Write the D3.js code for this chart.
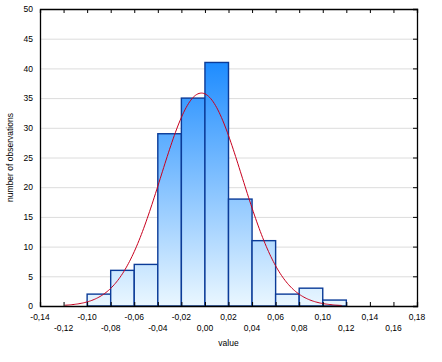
<!DOCTYPE html>
<html><head><meta charset="utf-8">
<script src="https://cdn.jsdelivr.net/npm/d3@7"></script>
<style>body{margin:0;background:#fff}text{font-family:"Liberation Sans",Arial,sans-serif;font-size:8.5px;fill:#000}</style>
</head><body><svg id="c" width="442" height="362"></svg>
<script>
const binStarts = [-0.10,-0.08,-0.06,-0.04,-0.02,0.00,0.02,0.04,0.06,0.08,0.10];
const counts = [2,6,7,29,35,41,18,11,2,3,1];
const binWidth = 0.02;
const xTicks = [-0.14,-0.12,-0.10,-0.08,-0.06,-0.04,-0.02,0.00,0.02,0.04,0.06,0.08,0.10,0.12,0.14,0.16,0.18];
const yTicks = [0,5,10,15,20,25,30,35,40,45,50];
const curveMean = -0.003, curveSd = 0.0345, curveFrom = -0.119, curveTo = 0.116;

(function(){
const svg = d3.select("#c");
const L=40,R=417,T=9,B=306;
const x = d3.scaleLinear().domain([-0.14,0.18]).range([L,R]);
const y = d3.scaleLinear().domain([0,50]).range([B,T]);
const fmt = d => d3.format(".2f")(d).replace(".",",").replace("−","-");

const defs = svg.append("defs");
const g = defs.append("linearGradient").attr("id","gr").attr("gradientUnits","userSpaceOnUse")
  .attr("x1",0).attr("x2",0).attr("y1",y(41)).attr("y2",B);
g.append("stop").attr("offset",0).attr("stop-color","#1e8cff");
g.append("stop").attr("offset",1).attr("stop-color","#eaf7ff");

// grid
svg.append("g").selectAll("line").data(yTicks.filter(d=>d>0&&d<50)).join("line")
  .attr("x1",L).attr("x2",R).attr("y1",d=>y(d)+0.5).attr("y2",d=>y(d)+0.5)
  .attr("stroke","#dcdcdc").attr("stroke-width",1);

// bars
svg.append("g").selectAll("rect").data(counts).join("rect")
  .attr("x",(d,i)=>x(binStarts[i])).attr("width",(d,i)=>x(binStarts[i]+binWidth)-x(binStarts[i]))
  .attr("y",d=>y(d)).attr("height",d=>B-y(d))
  .attr("fill","url(#gr)").attr("stroke","#0b3b98").attr("stroke-width",1.4);

// normal curve
const N = d3.sum(counts);
const pts = d3.range(curveFrom, curveTo+1e-9, 0.001).map(v=>[v, N*binWidth/(curveSd*Math.sqrt(2*Math.PI))*Math.exp(-0.5*((v-curveMean)/curveSd)**2)]);
svg.append("path").datum(pts).attr("fill","none").attr("stroke","#c8001e").attr("stroke-width",1)
  .attr("d",d3.line().x(d=>x(d[0])).y(d=>y(d[1])));

// axes
const axB = svg.append("g").attr("transform",`translate(0,${B})`)
  .call(d3.axisBottom(x).tickValues(xTicks).tickSize(-4).tickFormat(""));
const axT = svg.append("g").attr("transform",`translate(0,${T})`)
  .call(d3.axisTop(x).tickValues(xTicks).tickSize(-4).tickFormat(""));
const axR = svg.append("g").attr("transform",`translate(${R},0)`)
  .call(d3.axisRight(y).tickValues(yTicks).tickSize(-4).tickFormat(""));
const axL = svg.append("g").attr("transform",`translate(${L},0)`)
  .call(d3.axisLeft(y).tickValues(yTicks).tickSize(0).tickPadding(7).tickFormat(d=>d));
[axB,axT,axR,axL].forEach(a=>{a.attr("font-size",null).attr("font-family",null);a.selectAll("path.domain").attr("stroke","#000").attr("stroke-width",1.3);a.selectAll("line").attr("stroke","#000");a.selectAll("text").attr("fill","#000");});

// x labels staggered
svg.append("g").selectAll("text").data(xTicks).join("text")
  .attr("x",d=>x(d)).attr("y",(d,i)=>i%2===0?B+14:B+25)
  .attr("text-anchor","middle").text(fmt);

svg.append("text").attr("x",(L+R)/2).attr("y",346).attr("text-anchor","middle").text("value");
svg.append("text").attr("transform",`translate(13,${(T+B)/2}) rotate(-90)`).attr("text-anchor","middle").text("number of observations");
})();
</script></body></html>
